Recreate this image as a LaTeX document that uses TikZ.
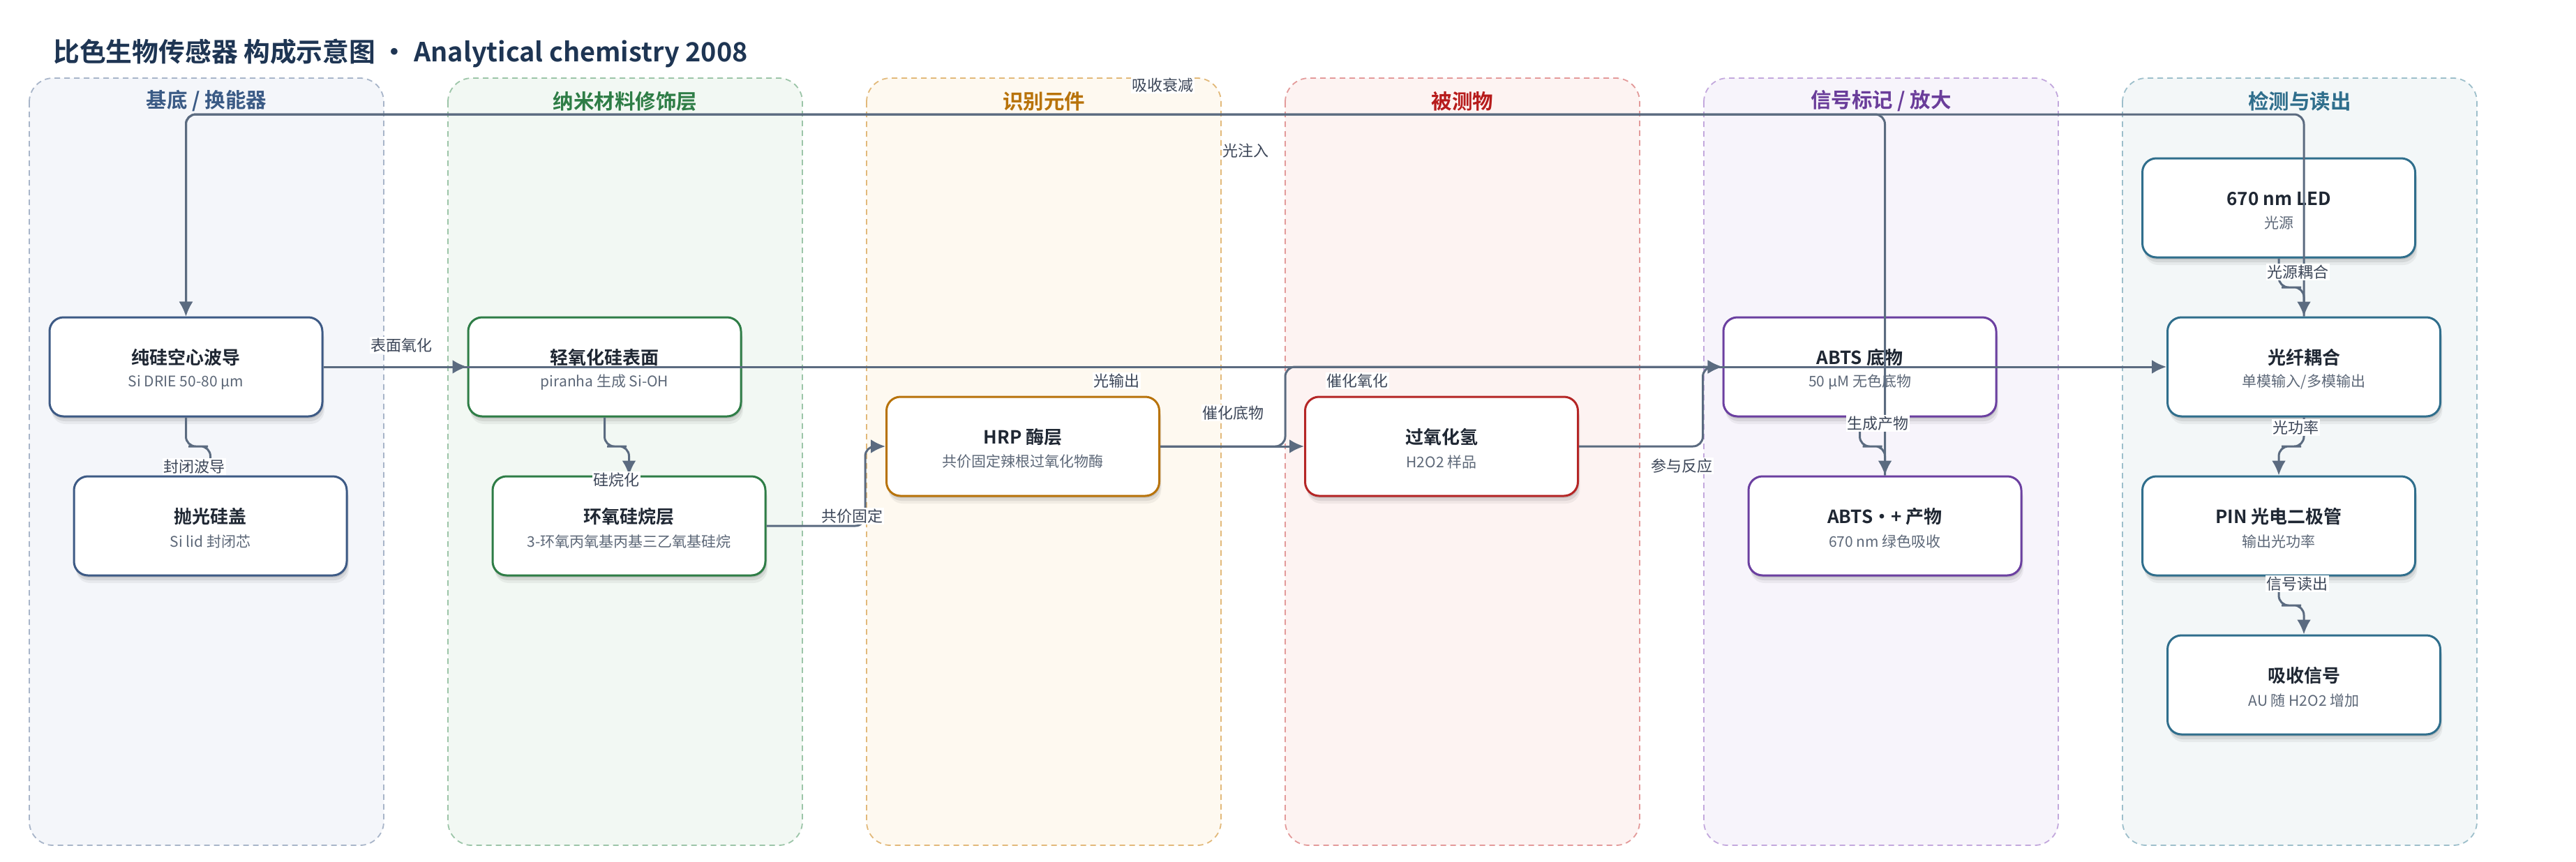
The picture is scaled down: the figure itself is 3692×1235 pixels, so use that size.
\documentclass[tikz,border=0pt]{standalone}
\usepackage{fontspec}
\setmainfont{Noto Sans CJK SC}[BoldFont={Noto Sans CJK SC Bold}]
\usetikzlibrary{arrows.meta,calc,shadows}
\definecolor{ttlc}{HTML}{1E3553}
\definecolor{edgec}{HTML}{5B6B80}
\definecolor{labc}{HTML}{3C4658}
\definecolor{ntc}{HTML}{1F2733}
\definecolor{nsc}{HTML}{5D6878}
\definecolor{laF1}{HTML}{F4F6FA}\definecolor{laD1}{HTML}{A8B5C9}\definecolor{laT1}{HTML}{3A5A85}
\definecolor{laF2}{HTML}{F2F8F3}\definecolor{laD2}{HTML}{9CC5A8}\definecolor{laT2}{HTML}{2E7D46}
\definecolor{laF3}{HTML}{FEF9F0}\definecolor{laD3}{HTML}{E2B97A}\definecolor{laT3}{HTML}{B8730A}
\definecolor{laF4}{HTML}{FDF3F2}\definecolor{laD4}{HTML}{E39A9A}\definecolor{laT4}{HTML}{B71C1C}
\definecolor{laF5}{HTML}{F7F4FB}\definecolor{laD5}{HTML}{C3A8DD}\definecolor{laT5}{HTML}{6A3D9A}
\definecolor{laF6}{HTML}{F3F7F8}\definecolor{laD6}{HTML}{9DBFCB}\definecolor{laT6}{HTML}{2F6E8C}
\definecolor{bdA}{HTML}{3D5A85}
\definecolor{bdB}{HTML}{2E7D46}
\definecolor{bdC}{HTML}{B8730A}
\definecolor{bdD}{HTML}{B52626}
\definecolor{bdE}{HTML}{6B3FA0}
\definecolor{bdF}{HTML}{2F6E8C}
\tikzset{
  lanebox/.style={line width=1.8pt, dash pattern=on 8pt off 6pt, rounded corners=34pt},
  lanetitle/.style={font=\bfseries\fontsize{29.5}{34}\selectfont, inner sep=0pt},
  blk/.style={line width=3pt, fill=white, rounded corners=20pt,
    minimum width=391pt, minimum height=142pt, inner sep=0pt,
    drop shadow={shadow xshift=1pt, shadow yshift=-3pt, opacity=0.10, fill=black},
    drop shadow={shadow xshift=2pt, shadow yshift=-7pt, opacity=0.08, fill=black},
    drop shadow={shadow xshift=3pt, shadow yshift=-11pt, opacity=0.05, fill=black}},
  ntitle/.style={font=\bfseries\fontsize{26}{30}\selectfont, text=ntc, inner sep=0pt},
  nsub/.style={font=\fontsize{21}{25}\selectfont, text=nsc, inner sep=0pt},
  edge/.style={draw=edgec, line width=3pt, rounded corners=14pt,
    -{Latex[length=21pt,width=20pt]}},
  elabel/.style={fill=white, inner sep=1.5pt, text=labc, font=\fontsize{22}{26}\selectfont},
}
\newcommand\mklane[3]{%
  \draw[lanebox, fill=laF#2, draw=laD#2] (#1,112) rectangle (#1+508,1212);
  \node[lanetitle, text=laT#2] (lane#2) at (#1+254,145) {#3};
}
\newcommand\mkbox[6]{%
  \node[blk, draw=#4] (#1) at (#2,#3) {};
  \node[ntitle] (#1-t) at (#2,#3-13) {#5};
  \node[nsub] (#1-s) at (#2,#3+22) {#6};
}
\begin{document}
\begin{tikzpicture}[x=1pt,y=-1pt]
\useasboundingbox (0,0) rectangle (3692,1235);
\fill[white] (0,0) rectangle (3692,1235);
\node[anchor=west, font=\bfseries\fontsize{37.8}{44}\selectfont, text=ttlc, inner sep=0pt] (title) at (76,76) {比色生物传感器 构成示意图 · Analytical chemistry 2008};

\mklane{42}{1}{基底 / 换能器}
\mklane{642}{2}{纳米材料修饰层}
\mklane{1242}{3}{识别元件}
\mklane{1842}{4}{被测物}
\mklane{2442}{5}{信号标记 / 放大}
\mklane{3042}{6}{检测与读出}

\mkbox{wg}{266.5}{526}{bdA}{纯硅空心波导}{Si DRIE 50-80 µm}
\mkbox{lid}{301.5}{754}{bdA}{抛光硅盖}{Si lid 封闭芯}
\mkbox{ox}{866.5}{526}{bdB}{轻氧化硅表面}{piranha 生成 Si-OH}
\mkbox{ep}{901.5}{754}{bdB}{环氧硅烷层}{3-环氧丙氧基丙基三乙氧基硅烷}
\mkbox{hrp}{1466}{640}{bdC}{HRP 酶层}{共价固定辣根过氧化物酶}
\mkbox{hp}{2066}{640}{bdD}{过氧化氢}{H2O2 样品}
\mkbox{abts}{2665.5}{526}{bdE}{ABTS 底物}{50 µM 无色底物}
\mkbox{abtsp}{2701.5}{754}{bdE}{ABTS·+ 产物}{670 nm 绿色吸收}
\mkbox{led}{3266}{298}{bdF}{670 nm LED}{光源}
\mkbox{fib}{3302}{526}{bdF}{光纤耦合}{单模输入/多模输出}
\mkbox{pin}{3266}{754}{bdF}{PIN 光电二极管}{输出光功率}
\mkbox{sig}{3302}{982}{bdF}{吸收信号}{AU 随 H2O2 增加}

\coordinate (topy) at (0,164);

% connectors
\draw[edge] (wg.east) -- (ox.west);
\draw[edge] (wg.east) -- (fib.west);
\draw[edge] (wg.south) |- ($(wg.south)!.5!(lid.north)$) -| (lid.north);
\draw[edge] (ox.south) |- ($(ox.south)!.5!(ep.north)$) -| (ep.north);
\draw[edge] (ep.east) -| ($(hrp.west)+(-29,0)$) -- (hrp.west);
\draw[edge] (hrp.east) -- (hp.west);
\draw[edge] (hrp.east) -- ($(hp.west)+(-27,0)$) |- (abts.west);
\draw[edge] (hp.east) -| ($(abts.west)+(-28,0)$) -- (abts.west);
\draw[edge] (abts.south) |- ($(abts.south)!.5!(abtsp.north)$) -| (abtsp.north);
\draw[edge] (led.south) |- ($(led.south)!.5!(fib.north)$) -| (fib.north);
\draw[edge] (fib.south) |- ($(fib.south)!.5!(pin.north)$) -| (pin.north);
\draw[edge] (pin.south) |- ($(pin.south)!.5!(sig.north)$) -| (sig.north);
\draw[edge] (fib.north) -- (fib.north |- topy) -- (wg.north |- topy) -- (wg.north);
\draw[edge] (abtsp.north) -- (abtsp.north |- topy) -- (wg.north |- topy) -- (wg.north);

% labels
\node[elabel] (l1) at (575,495) {表面氧化};
\node[elabel] (l2) at (278,669) {封闭波导};
\node[elabel] (l3) at (883,688) {硅烷化};
\node[elabel] (l4) at (1221,740) {共价固定};
\node[elabel] (l5) at (1767,592) {催化底物};
\node[elabel] (l6) at (1945,546) {催化氧化};
\node[elabel] (l7) at (2410,668) {参与反应};
\node[elabel] (l8) at (1600,546) {光输出};
\node[elabel] (l9) at (2691,607) {生成产物};
\node[elabel] (l10) at (3293,390) {光源耦合};
\node[elabel] (l11) at (3290,613) {光功率};
\node[elabel] (l12) at (3292,837) {信号读出};
\node[elabel] (l13) at (1785,216) {光注入};
\node[elabel] (l14) at (1666,122) {吸收衰减};
\end{tikzpicture}
\end{document}
